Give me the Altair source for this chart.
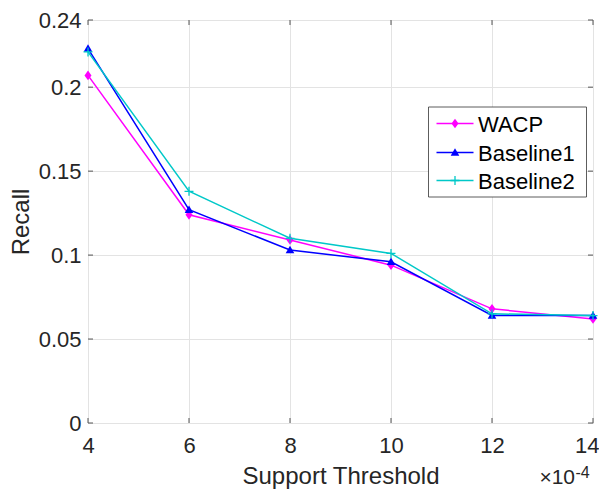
import altair as alt
import pandas as pd

# ---- data ----
thresholds = [4, 6, 8, 10, 12, 14]
series_names = ["WACP", "Baseline1", "Baseline2"]
wacp = [0.207, 0.124, 0.109, 0.094, 0.068, 0.062]
baseline1 = [0.223, 0.127, 0.103, 0.096, 0.064, 0.064]
baseline2 = [0.221, 0.138, 0.110, 0.101, 0.065, 0.064]
x_ticks = [4, 6, 8, 10, 12, 14]
y_ticks = [0, 0.05, 0.1, 0.15, 0.2, 0.24]

colors = {"WACP": "#ff00ff", "Baseline1": "#0000ff", "Baseline2": "#00c8c8"}
values = {"WACP": wacp, "Baseline1": baseline1, "Baseline2": baseline2}

W, H = 505, 403
FONT = "Liberation Sans"
AX = "#555555"
TXT = "#262626"

DIAMOND = "M0,-1L0.72,0L0,1L-0.72,0Z"
PLUS = "M-1,0H1M0,-1V1"
TRI = "M0,-1L1,0.75L-1,0.75Z"
marker = {
    "WACP": dict(shape=DIAMOND, filled=True, size=95, strokeWidth=0),
    "Baseline1": dict(shape=TRI, filled=True, size=75, strokeWidth=0),
    "Baseline2": dict(shape=PLUS, filled=False, size=80, strokeWidth=1.3),
}

xscale = alt.Scale(domain=[4, 14], nice=False, zero=False)
yscale = alt.Scale(domain=[0, 0.24], nice=False, zero=False)

layers = []

# base with axes/grid
base_df = pd.DataFrame({"x": thresholds, "y": wacp})
axes = alt.Chart(base_df).mark_point(opacity=0).encode(
    x=alt.X("x:Q", scale=xscale,
            axis=alt.Axis(values=x_ticks, grid=True, gridColor="#e3e3e3", gridWidth=1,
                          domain=False, ticks=False, labelFlush=True, labelFlushOffset=6,
                          labelFont=FONT,
                          labelFontSize=22, labelColor=TXT, labelPadding=12,
                          title="Support Threshold", titleFont=FONT, titleFontSize=24,
                          titleFontWeight="normal", titleColor=TXT,
                          titleBaseline="alphabetic", titleY=60)),
    y=alt.Y("y:Q", scale=yscale,
            axis=alt.Axis(values=y_ticks, grid=True, gridColor="#e3e3e3", gridWidth=1,
                          domain=False, ticks=False, labelFlush=False, format="~g",
                          labelFont=FONT, labelFontSize=22, labelColor=TXT,
                          labelPadding=7, title="Recall", titleFont=FONT,
                          titleFontSize=24, titleFontWeight="normal", titleColor=TXT,
                          titleBaseline="alphabetic", titleX=-60)),
)
layers.append(axes)

for name in series_names:
    df = pd.DataFrame({"x": thresholds, "y": values[name]})
    ln = alt.Chart(df).mark_line(color=colors[name], strokeWidth=1.5).encode(
        x=alt.X("x:Q", scale=xscale), y=alt.Y("y:Q", scale=yscale))
    m = marker[name]
    pt = alt.Chart(df).mark_point(
        shape=m["shape"], filled=m["filled"], size=m["size"],
        color=colors[name], strokeWidth=m["strokeWidth"] if not m["filled"] else 0,
        opacity=1,
    ).encode(x=alt.X("x:Q", scale=xscale), y=alt.Y("y:Q", scale=yscale))
    layers += [ln, pt]

# inward ticks
xt_df = pd.DataFrame({"x": x_ticks})
yt_df = pd.DataFrame({"y": y_ticks})
for y0, y1 in [(H, H - 5), (0, 5)]:
    layers.append(alt.Chart(xt_df).mark_rule(color=AX, strokeWidth=1).encode(
        x=alt.X("x:Q", scale=xscale), y=alt.value(y0), y2=alt.value(y1)))
for x0, x1 in [(0, 5), (W, W - 5)]:
    layers.append(alt.Chart(yt_df).mark_rule(color=AX, strokeWidth=1).encode(
        y=alt.Y("y:Q", scale=yscale), x=alt.value(x0), x2=alt.value(x1)))

# legend
one = pd.DataFrame({"a": [0]})
layers.append(alt.Chart(one).mark_rect(fill="white", stroke="#333333", strokeWidth=0.8).encode(
    x=alt.value(340.5), x2=alt.value(498.5), y=alt.value(87), y2=alt.value(177)))
leg_y = [103.5, 132.5, 160.5]
for name, ly in zip(series_names, leg_y):
    layers.append(alt.Chart(one).mark_rule(color=colors[name], strokeWidth=1.5).encode(
        x=alt.value(348.5), x2=alt.value(385.5), y=alt.value(ly)))
    m = marker[name]
    layers.append(alt.Chart(one).mark_point(
        shape=m["shape"], filled=m["filled"], size=m["size"], color=colors[name],
        strokeWidth=m["strokeWidth"] if not m["filled"] else 0, opacity=1).encode(
        x=alt.value(367), y=alt.value(ly)))
    layers.append(alt.Chart(one).mark_text(
        text=name, font=FONT, fontSize=22, color="#000000", align="left",
        baseline="middle").encode(x=alt.value(390), y=alt.value(ly + 1)))

# exponent
layers.append(alt.Chart(one).mark_text(
    text="\u00d710", font=FONT, fontSize=21, color=TXT, align="right",
    baseline="alphabetic").encode(x=alt.value(487), y=alt.value(464)))
layers.append(alt.Chart(one).mark_text(
    text="-4", font=FONT, fontSize=16, color=TXT, align="left",
    baseline="alphabetic").encode(x=alt.value(487.5), y=alt.value(458)))

chart = alt.layer(*layers).properties(
    width=W, height=H,
    padding={"left": 80, "top": 12, "right": 6, "bottom": 66},
    autosize=alt.AutoSizeParams(type="none"),
).configure_view(stroke=AX, strokeWidth=1).configure(background="white")

chart.save("out.html", embed_options={"renderer": "svg", "actions": False})
